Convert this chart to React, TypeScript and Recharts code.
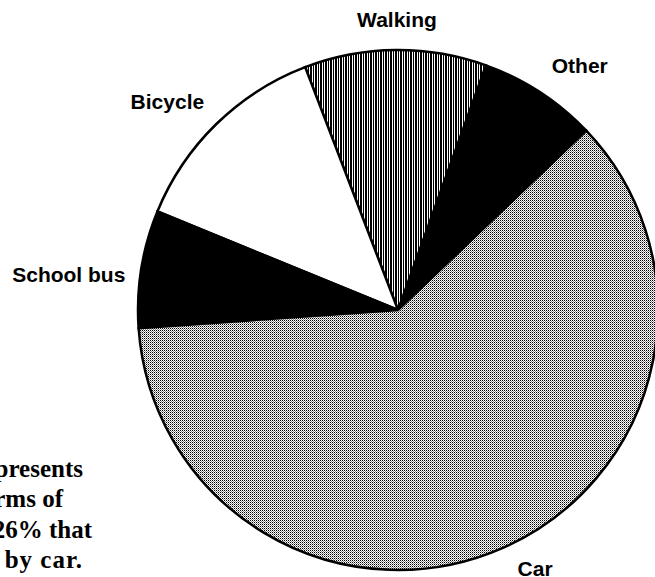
import React from 'react';
import { PieChart, Pie, Cell } from 'recharts';

// Slices listed counter-clockwise starting from the Other/Car boundary
const categories: string[] = ['Other', 'Walking', 'Bicycle', 'School bus', 'Car'];
const shares: number[] = [7.4, 11.3, 13.0, 7.3, 61.0];
// note text: hidden leading part (cut off at the left edge) and visible tail
const notePrefixes: string[] = ['The pie chart re', 'school journeys in te', 'transport, with the ', 'are made '];
const noteTails: string[] = ['presents', 'rms of', '26% that', 'by car.'];

const data = categories.map((name, i) => ({ name, value: shares[i] }));

const FILLS: Record<string, string> = {
  Other: '#000000',
  Walking: 'url(#walkStripes)',
  Bicycle: '#ffffff',
  'School bus': '#000000',
  Car: 'url(#carDots)',
};

// label layout tweaks (pixels) relative to a ring outside the pie
const LABEL_NUDGE: Record<string, [number, number]> = {
  Walking: [2, 17],
  Other: [18, 14],
  Bicycle: [-21, 14],
  'School bus': [-33, 20],
  Car: [16, -8],
};

// right-edge x, baseline y, tail letter spacing and tail gap of each note line
const NOTE_LAYOUT: [number, number, number, number][] = [
  [83, 477, 0, 0],
  [63, 507, 0, 0],
  [92, 538, 0, 0],
  [83, 568, 1, 10],
];

const RADIAN = Math.PI / 180;

const renderLabel = (props: any) => {
  const { cx, cy, midAngle, outerRadius, index } = props;
  const name: string = props.payload?.name ?? props.name ?? categories[index];
  const r = outerRadius + 40;
  const n = LABEL_NUDGE[name] || [0, 0];
  const x = cx + r * Math.cos(-midAngle * RADIAN) + n[0];
  const y = cy + r * Math.sin(-midAngle * RADIAN) + n[1];
  return (
    <text
      x={x}
      y={y}
      textAnchor="middle"
      fontFamily="'Liberation Sans', Arial, sans-serif"
      fontWeight="bold"
      fontSize={21}
      fill="#000"
    >
      {name}
    </text>
  );
};

export default function App() {
  return (
    <div style={{ position: 'absolute', left: 0, top: 0, width: 655, height: 577, background: '#fff', overflow: 'hidden' }}>
      <svg width={0} height={0} style={{ position: 'absolute' }}>
        <defs>
          <pattern id="carDots" patternUnits="userSpaceOnUse" width={2} height={2}>
            <rect x={0} y={0} width={2} height={2} fill="#ffffff" />
            <rect x={0} y={0} width={1} height={1} fill="#000000" />
            <rect x={1} y={1} width={1} height={1} fill="#8a8a8a" />
          </pattern>
          <pattern id="walkStripes" patternUnits="userSpaceOnUse" width={5} height={5}>
            <rect x={0} y={0} width={5} height={5} fill="#ffffff" />
            <rect x={0} y={0} width={2} height={5} fill="#000000" />
            <rect x={3} y={0} width={1} height={5} fill="#000000" />
          </pattern>
        </defs>
      </svg>
      <PieChart width={655} height={577} margin={{ top: 0, right: 0, bottom: 0, left: 0 }}>
        <Pie
          data={data}
          dataKey="value"
          nameKey="name"
          cx={398}
          cy={310}
          outerRadius={260}
          startAngle={43.6}
          endAngle={403.6}
          stroke="#000"
          strokeWidth={2.5}
          label={renderLabel}
          labelLine={false}
          isAnimationActive={false}
        >
          {data.map((d) => (
            <Cell key={d.name} fill={FILLS[d.name]} />
          ))}
        </Pie>
      </PieChart>
      <svg width={655} height={577} style={{ position: 'absolute', left: 0, top: 0, pointerEvents: 'none' }}>
        {noteTails.map((tail, i) => (
          <text
            key={i}
            x={NOTE_LAYOUT[i][0]}
            y={NOTE_LAYOUT[i][1]}
            textAnchor="end"
            fontFamily="'Liberation Serif', 'Times New Roman', serif"
            fontWeight="bold"
            fontSize={25}
            fill="#000"
          >
            <tspan>{notePrefixes[i]}</tspan>
            <tspan dx={NOTE_LAYOUT[i][3]} letterSpacing={NOTE_LAYOUT[i][2]}>{tail}</tspan>
          </text>
        ))}
      </svg>
    </div>
  );
}
